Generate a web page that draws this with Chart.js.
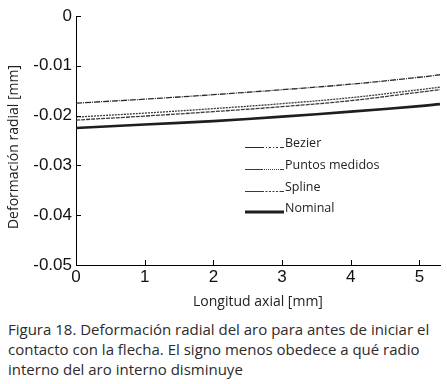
<!DOCTYPE html>
<html><head><meta charset="utf-8">
<script src="https://cdn.jsdelivr.net/npm/chart.js@4/dist/chart.umd.min.js"></script>
<style>
html,body{margin:0;padding:0;background:#fff;width:447px;height:384px;overflow:hidden}
#wrap{position:relative;width:447px;height:310px}
#cap{position:absolute;left:8px;top:319px;width:440px;font-family:"Open Sans",sans-serif;font-size:15px;line-height:20px;color:#2b2b2b}
</style></head><body>
<div id="wrap"><canvas id="c" width="447" height="310"></canvas></div>
<div id="cap">Figura 18. Deformación radial del aro para antes de iniciar el contacto con la flecha. El signo menos obedece a qué radio interno del aro interno disminuye</div>
<script>
const xVals = [0, 1, 2, 3, 4, 5, 5.3];
const bezier = [-0.0175, -0.0167, -0.0158, -0.0148, -0.0137, -0.0123, -0.0118];
const puntos = [-0.0203, -0.0195, -0.0186, -0.0176, -0.0164, -0.0148, -0.0143];
const spline = [-0.0209, -0.0201, -0.0192, -0.0182, -0.0170, -0.0153, -0.0148];
const nominal = [-0.0225, -0.0218, -0.0211, -0.0202, -0.0192, -0.0181, -0.0177];
const seriesLabels = ["Bezier", "Puntos medidos", "Spline", "Nominal"];
const xTicks = [0, 1, 2, 3, 4, 5];
const yTicks = [0, -0.01, -0.02, -0.03, -0.04, -0.05];
const yTitle = 'Deformación radial [mm]';

const pts = arr => arr.map((v, i) => ({x: xVals[i], y: v}));
const styles = [
  {c: '#2a2a2a', w: 1.3, d: [6, 1, 1, 1]},
  {c: '#3a3a3a', w: 1.3, d: [2, 1]},
  {c: '#3a3a3a', w: 1.3, d: [4, 1]},
  {c: '#1e1e1e', w: 2.6, d: []}
];
const legendDash = [[2, 2, 1, 2], [1, 1], [2, 1.5], []];
const datasets = [bezier, puntos, spline, nominal].map((arr, i) => ({
  label: seriesLabels[i], data: pts(arr), borderColor: styles[i].c, borderWidth: styles[i].w,
  borderDash: styles[i].d, pointRadius: 0, tension: 0.4, fill: false
}));

const extras = {
  id: 'extras',
  afterDraw(chart) {
    const ctx = chart.ctx, xs = chart.scales.x, ys = chart.scales.y, a = chart.chartArea;
    ctx.save(); ctx.strokeStyle = '#000'; ctx.lineWidth = 1;
    ctx.beginPath();
    xTicks.forEach(t => { const px = Math.round(xs.getPixelForValue(t)) + 0.5; ctx.moveTo(px, a.bottom); ctx.lineTo(px, a.bottom - 5); });
    yTicks.forEach(t => { const py = Math.round(ys.getPixelForValue(t)) + 0.5; ctx.moveTo(a.left, py); ctx.lineTo(a.left + 5, py); });
    ctx.stroke();
    // y title
    ctx.save();
    ctx.translate(14, 147); ctx.rotate(-Math.PI / 2);
    ctx.font = '14px "Open Sans", sans-serif'; ctx.fillStyle = '#222';
    ctx.textAlign = 'center'; ctx.textBaseline = 'middle';
    ctx.fillText(yTitle, 0, 0);
    ctx.restore();
    // legend
    const lx0 = 245, lmid = 262, lx1 = 283; const ly = [147, 169, 191, 212];
    ctx.font = '12.5px "Open Sans", sans-serif'; ctx.fillStyle = '#222'; ctx.textBaseline = 'alphabetic';
    chart.data.datasets.forEach((ds, i) => {
      ctx.strokeStyle = ds.borderColor;
      if (i === 3) {
        ctx.lineWidth = 3; ctx.setLineDash([]);
        ctx.beginPath(); ctx.moveTo(lx0, ly[i]); ctx.lineTo(lx1 + 1, ly[i]); ctx.stroke();
      } else {
        ctx.lineWidth = 1; ctx.setLineDash([]);
        ctx.beginPath(); ctx.moveTo(lx0, ly[i] + 0.5); ctx.lineTo(lmid, ly[i] + 0.5); ctx.stroke();
        ctx.setLineDash(legendDash[i]);
        ctx.beginPath(); ctx.moveTo(lmid, ly[i] + 0.5); ctx.lineTo(lx1 - 3, ly[i] + 0.5); ctx.stroke();
        ctx.setLineDash([]);
        ctx.beginPath(); ctx.moveTo(lx1 - 3, ly[i] + 0.5); ctx.lineTo(lx1 + 1, ly[i] + 0.5); ctx.stroke();
      }
      ctx.fillText(ds.label, lx1 + 2, ly[i]);
    });
    ctx.restore();
  }
};

new Chart(document.getElementById('c'), {
  type: 'line',
  data: { datasets },
  options: {
    responsive: false, animation: false,
    layout: { padding: { top: 16, right: 7, left: 0, bottom: 0 } },
    plugins: { legend: { display: false }, tooltip: { enabled: false } },
    scales: {
      x: {
        type: 'linear', min: 0, max: 5.3,
        afterBuildTicks: s => { s.ticks = xTicks.map(v => ({value: v})); },
        afterFit: s => { s.height = 45; },
        grid: { display: false, drawTicks: false },
        border: { display: true, color: '#000', width: 1 },
        ticks: { padding: 2, color: '#111', font: { family: 'Liberation Sans', size: 17 }, maxRotation: 0, callback: v => String(v) },
        title: { display: true, text: 'Longitud axial [mm]', color: '#222', font: { family: 'Open Sans', size: 14 }, padding: { top: 0, bottom: 0 } }
      },
      y: {
        type: 'linear', min: -0.05, max: 0,
        afterBuildTicks: s => { s.ticks = yTicks.map(v => ({value: v})); },
        afterFit: s => { s.width = 76; },
        grid: { display: false, drawTicks: false },
        border: { display: true, color: '#000', width: 1 },
        ticks: { padding: 4, color: '#111', font: { family: 'Liberation Sans', size: 17 }, callback: v => (Math.abs(v) < 1e-9 ? '0' : v.toFixed(2)) },
        title: { display: false }
      }
    }
  },
  plugins: [extras]
});
</script>
</body></html>
